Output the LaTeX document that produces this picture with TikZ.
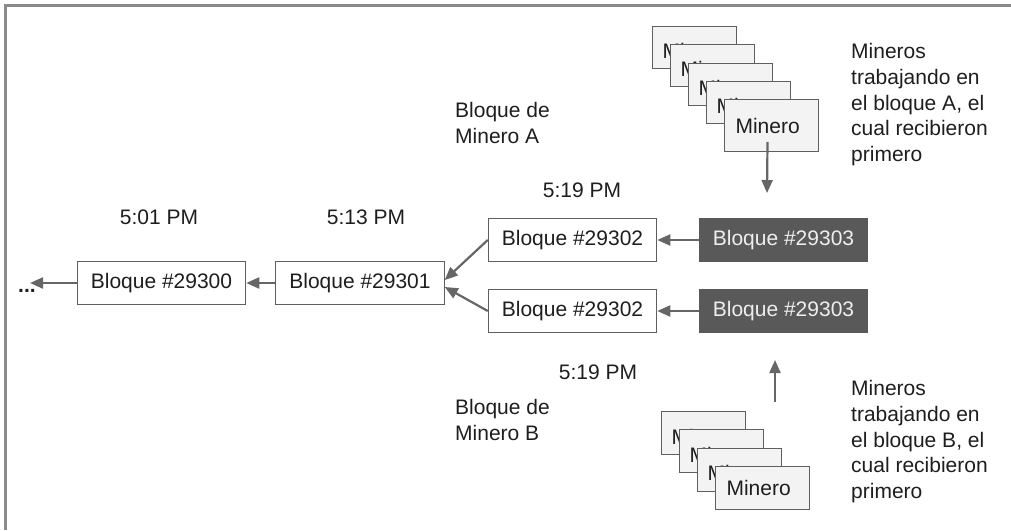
\documentclass[tikz,border=0pt]{standalone}
\usepackage{fontspec}
\setmainfont{Liberation Sans}
\usepackage{tikz}
\usetikzlibrary{arrows.meta}
\definecolor{ccText}{HTML}{1E1E1E}
\definecolor{ccEdge}{HTML}{5F5F5F}
\definecolor{ccDark}{HTML}{595959}
\definecolor{ccLight}{HTML}{EEEEEE}
\definecolor{ccMiner}{HTML}{F3F3F3}
\definecolor{ccArrow}{HTML}{666666}
\definecolor{ccFrame}{HTML}{8A8A8A}
\colorlet{oiG}{ccArrow}

\begin{document}
\begin{tikzpicture}[x=1pt, y=-1pt,
  every node/.style={font=\fontsize{21}{25.8}\selectfont, text=ccText},
  blk/.style={draw=ccEdge, line width=1pt, minimum width=168.5pt, minimum height=43pt, inner sep=0pt},
  blkdark/.style={blk, fill=ccDark, draw=ccDark, text=ccLight},
  miner/.style={draw=ccEdge, line width=1pt, fill=ccMiner, anchor=north west, align=left,
    inner ysep=0pt, inner xsep=10pt, text width=64pt, minimum height=42pt,
    text height=22pt, text depth=0pt},
  minerfront/.style={miner, inner xsep=11pt, text width=72pt, text height=15pt},
  lbl/.style={inner sep=0pt, align=left, anchor=north west},
  arr/.style={-{Triangle[length=13pt,width=11pt]}, line width=2.2pt, oiG}]
\useasboundingbox (0,0) rectangle (1011,530);
\draw[ccFrame, line width=3pt] (5.5,530) -- (5.5,5.5) -- (1011,5.5);

\node[blk] (b300) at (161.5,283) {Bloque \#29300};
\node[blk] (b301) at (360,283) {Bloque \#29301};
\node[blk] (b302a) at (572.5,240) {Bloque \#29302};
\node[blk] (b302b) at (572.5,311) {Bloque \#29302};
\node[blkdark] (b303a) at (783.5,240) {Bloque \#29303};
\node[blkdark] (b303b) at (783.5,311) {Bloque \#29303};

\node (t300) at (159,217) {5:01 PM};
\node (t301) at (366,217) {5:13 PM};
\node (t302a) at (582,190) {5:19 PM};
\node (t302b) at (598,372) {5:19 PM};

\node[lbl] (lblA) at (455,102) {Bloque de\\Minero A};
\node[lbl] (lblB) at (455,399) {Bloque de\\Minero B};
\node[lbl] (noteA) at (851,43) {Mineros\\trabajando en\\el bloque A, el\\cual recibieron\\primero};
\node[lbl] (noteB) at (851,380) {Mineros\\trabajando en\\el bloque B, el\\cual recibieron\\primero};

\node[miner] (mA1) at (652,26) {Minero};
\node[miner] (mA2) at (670,44.25) {Minero};
\node[miner] (mA3) at (688,62.5) {Minero};
\node[miner] (mA4) at (706,80.75) {Minero};
\node[minerfront, minimum height=52pt] (mA5) at (724,99) {Minero};

\node[miner, minimum height=43pt] (mB1) at (661,411) {Minero};
\node[miner, minimum height=43pt] (mB2) at (679,429.3) {Minero};
\node[miner, minimum height=43pt] (mB3) at (697,447.6) {Minero};
\node[minerfront, minimum height=43pt] (mB4) at (715,466) {Minero};

\node[inner sep=0pt, anchor=base west] (dots) at (18,292.5) {\textbf{...}};
\coordinate (dotsend) at (30,283);
\coordinate (tipA) at (767,193);
\coordinate (tailB) at (775,402);
\coordinate (tipB) at (775,360);

\draw[arr] (b300.west) -- (dotsend);
\draw[arr] (b301.west) -- (b300.east);
\draw[arr] (b302a.west) -- ([yshift=3pt]b301.east);
\draw[arr] (b302b.west) -- ([yshift=-4pt]b301.east);
\draw[arr] (b303a.west) -- (b302a.east);
\draw[arr] (b303b.west) -- (b302b.east);
\draw[arr] ([xshift=-4pt,yshift=10pt]mA5.south) -- (tipA);
\draw[arr] (tailB) -- (tipB);
\end{tikzpicture}
\end{document}
